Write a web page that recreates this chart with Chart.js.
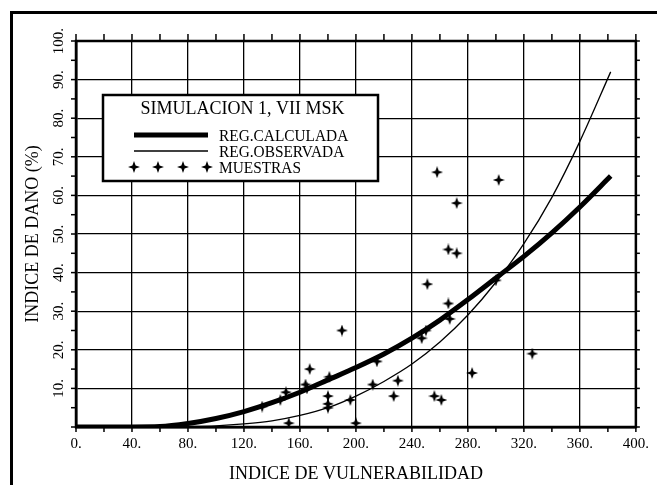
<!DOCTYPE html>
<html>
<head>
<meta charset="utf-8">
<script src="https://cdn.jsdelivr.net/npm/chart.js@4/dist/chart.umd.min.js"></script>
<style>
html,body{margin:0;padding:0;background:#fff;}
canvas{display:block;}
</style>
</head>
<body>
<canvas id="c" width="657" height="485"></canvas>
<script>
// ---- data ----
const calcX = [0, 40, 60, 80, 100, 120, 140, 160, 180, 200, 220, 240, 260, 280, 300, 320, 340, 360, 382];
const calcY = [0, 0, 0.1, 0.9, 2.2, 4.0, 6.3, 9.0, 12.2, 15.4, 18.9, 23.0, 27.7, 33.0, 38.6, 44.2, 50.3, 57.0, 65.0];

const obsX = [0, 60, 80, 100, 120, 140, 160, 180, 200, 220, 240, 260, 280, 300, 320, 340, 360, 382];
const obsY = [0, 0, 0.1, 0.3, 0.8, 1.6, 3.0, 5.0, 8.0, 11.8, 16.3, 22.0, 29.0, 37.5, 47.5, 59.5, 74.0, 92.0];

const sampleX = [133, 146, 150, 152, 164, 165, 167, 180, 180, 180, 181, 190, 196, 200, 212, 215, 227, 230, 247, 250, 251, 256, 258, 261, 266, 266, 267, 272, 272, 283, 300, 302, 326];
const sampleY = [5.3, 7, 9, 1, 11, 10, 15, 5, 6, 8, 13, 25, 7, 1, 11, 17, 8, 12, 23, 25, 37, 8, 66, 7, 46, 32, 28, 58, 45, 14, 38, 64, 19];

const xTickValues = [0, 40, 80, 120, 160, 200, 240, 280, 320, 360, 400];
const yTickLabels = [10, 20, 30, 40, 50, 60, 70, 80, 90, 100];

const seriesNames = ['REG.CALCULADA', 'REG.OBSERVADA', 'MUESTRAS'];
const legendTitle = 'SIMULACION 1, VII MSK';
const xTitle = 'INDICE DE VULNERABILIDAD';
const yTitle = 'INDICE DE DANO (%)';

const SERIF = '"Liberation Serif", "DejaVu Serif", serif';

function pts(xs, ys) { return xs.map((x, i) => ({x: x, y: ys[i]})); }

function makeMarker() {
  const c = document.createElement('canvas');
  c.width = 12; c.height = 12;
  const g = c.getContext('2d');
  g.fillStyle = '#000';
  g.beginPath();
  g.moveTo(6, 0); g.lineTo(7.6, 4.4); g.lineTo(12, 6); g.lineTo(7.6, 7.6);
  g.lineTo(6, 12); g.lineTo(4.4, 7.6); g.lineTo(0, 6); g.lineTo(4.4, 4.4);
  g.closePath(); g.fill();
  return c;
}
const marker = makeMarker();

const framePlugin = {
  id: 'framePlugin',
  afterDraw(chart) {
    const ctx = chart.ctx, a = chart.chartArea, xs = chart.scales.x, ys = chart.scales.y;
    ctx.save();
    ctx.strokeStyle = '#000';
    ctx.fillStyle = '#000';
    function line(x1, y1, x2, y2) { ctx.beginPath(); ctx.moveTo(x1, y1); ctx.lineTo(x2, y2); ctx.stroke(); }
    // outer frame
    ctx.lineWidth = 3;
    ctx.beginPath(); ctx.moveTo(11.5, 485); ctx.lineTo(11.5, 12.5); ctx.lineTo(657, 12.5); ctx.stroke();
    // plot frame
    ctx.lineWidth = 2.5;
    ctx.strokeRect(a.left, a.top, a.right - a.left, a.bottom - a.top);
    // outward ticks
    ctx.lineWidth = 1.5;
    for (let v = xs.min; v <= xs.max; v += 20) {
      const px = xs.getPixelForValue(v);
      line(px, a.bottom, px, a.bottom + 5);
      line(px, a.top, px, a.top - 7);
    }
    for (let v = ys.min; v <= ys.max; v += 5) {
      const py = ys.getPixelForValue(v);
      line(a.left - 5, py, a.left, py);
      line(a.right, py, a.right + 4, py);
    }
    // rotated y tick labels
    ctx.font = '15px ' + SERIF;
    ctx.textAlign = 'center';
    ctx.textBaseline = 'middle';
    yTickLabels.forEach(v => {
      const py = ys.getPixelForValue(v);
      ctx.save();
      ctx.translate(59, py);
      ctx.rotate(-Math.PI / 2);
      ctx.fillText(v + '.', 0, 0);
      ctx.restore();
    });
    // legend box
    const bx = 103, by = 95, bw = 275, bh = 86;
    ctx.fillStyle = '#fff';
    ctx.fillRect(bx, by, bw, bh);
    ctx.lineWidth = 2.5;
    ctx.strokeRect(bx, by, bw, bh);
    ctx.fillStyle = '#000';
    ctx.font = '18px ' + SERIF;
    ctx.textAlign = 'center';
    ctx.fillText(legendTitle, bx + bw / 2 + 2, 109);
    const ds = chart.data.datasets;
    const rows = [135, 151, 167];
    ctx.textAlign = 'left';
    ctx.font = '16px ' + SERIF;
    ds.forEach((d, i) => {
      const yy = rows[i];
      if (d.showLine === false) {
        [134, 158, 183, 207].forEach(mx => ctx.drawImage(marker, mx - 6, yy - 6));
      } else {
        ctx.strokeStyle = '#000';
        ctx.lineWidth = d.borderWidth;
        line(134, yy, 208, yy);
      }
      ctx.save();
      ctx.translate(219, yy + 1);
      ctx.scale(0.96, 1.08);
      ctx.fillText(d.label, 0, 0);
      ctx.restore();
    });
    ctx.restore();
  }
};

new Chart(document.getElementById('c'), {
  type: 'line',
  data: {
    datasets: [
      { label: seriesNames[0], data: pts(calcX, calcY), borderColor: '#000', borderWidth: 5,
        pointRadius: 0, cubicInterpolationMode: 'monotone', fill: false, order: 2 },
      { label: seriesNames[1], data: pts(obsX, obsY), borderColor: '#000', borderWidth: 1.3,
        pointRadius: 0, cubicInterpolationMode: 'monotone', fill: false, order: 1 },
      { label: seriesNames[2], data: pts(sampleX, sampleY), showLine: false, borderColor: '#000',
        backgroundColor: '#000', pointStyle: marker, pointRadius: 6, order: 0 }
    ]
  },
  options: {
    responsive: false,
    animation: false,
    devicePixelRatio: 1,
    layout: { padding: { left: 0, top: 41, right: 19, bottom: 0 } },
    plugins: { legend: { display: false }, tooltip: { enabled: false } },
    scales: {
      x: {
        type: 'linear', min: 0, max: 400,
        afterBuildTicks: s => { s.ticks = xTickValues.map(v => ({value: v})); },
        afterFit: s => { s.height = 58; },
        grid: { color: '#000', lineWidth: 1.3, drawTicks: false },
        border: { display: true, color: '#000', width: 2.5 },
        ticks: { color: '#000', font: { family: SERIF, size: 15 }, padding: 8,
                 maxRotation: 0, minRotation: 0, callback: v => v + '.' },
        title: { display: true, text: xTitle, color: '#000',
                 font: { family: SERIF, size: 18 }, padding: { top: 7, bottom: 0 } }
      },
      y: {
        type: 'linear', min: 0, max: 100,
        ticks: { display: false, stepSize: 10 },
        afterFit: s => { s.width = 76; },
        grid: { color: '#000', lineWidth: 1.3, drawTicks: false },
        border: { display: true, color: '#000', width: 2.5 },
        title: { display: true, text: yTitle, color: '#000',
                 font: { family: SERIF, size: 18 }, padding: { top: 22, bottom: 0 } }
      }
    }
  },
  plugins: [framePlugin]
});
</script>
</body>
</html>
